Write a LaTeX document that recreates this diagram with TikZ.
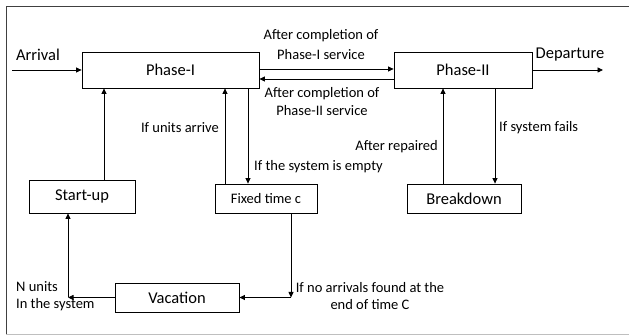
\documentclass[tikz,border=0pt]{standalone}
\usepackage{fontspec}
\setmainfont{Carlito}
\usetikzlibrary{arrows.meta}
\tikzset{
  box/.style={draw=black, line width=0.8pt, inner sep=0pt, font=\fontsize{16.5}{19}\selectfont},
  lbl/.style={inner sep=0pt, font=\fontsize{14.5}{18}\selectfont},
  big/.style={inner sep=0pt, font=\fontsize{16.5}{19}\selectfont},
  arr/.style={draw=black, line width=0.8pt, -{Triangle[length=5.5pt,width=5pt]}},
  ln/.style={draw=black, line width=0.8pt}
}
\begin{document}
\begin{tikzpicture}[x=1pt,y=-1pt]
\useasboundingbox (0,0) rectangle (629,336);
\draw[draw=black!75, line width=0.8pt] (629,6.5) -- (6,6.5) -- (6,334);
\draw[draw=black!25, line width=0.8pt] (6,334) -- (629,334);

% boxes
\node[box, minimum width=177pt, minimum height=36pt] (p1) at (170.5,70) {Phase-I};
\node[box, minimum width=138pt, minimum height=36pt] (p2) at (463,70) {Phase-II};
\node[box, minimum width=106pt, minimum height=33pt] (su) at (82,196.5) {Start-up};
\node[box, minimum width=102pt, minimum height=29pt, font=\fontsize{14.5}{17}\selectfont] (ft) at (266,198.5) {Fixed time c};
\node[box, minimum width=114pt, minimum height=29pt] (bd) at (464,198.5) {Breakdown};
\node[box, minimum width=124pt, minimum height=29pt] (vac) at (177,297.5) {Vacation};

% free-end coordinates
\coordinate (ain) at (12,70);
\coordinate (dout) at (603,70);

% arrival / departure
\draw[arr] (ain) -- (p1.west);
\draw[arr] (p2.east) -- (dout);
\node[big] (tarr) at (38,55) {Arrival};
\node[big] (tdep) at (570,55) {Departure};

% phase arrows
\draw[arr] ([yshift=1pt]p1.east) -- ([yshift=1pt]p2.west);
\draw[arr] ([yshift=-9pt]p2.west) -- ([yshift=-9pt]p1.east);
\node[lbl, align=center, font=\fontsize{14.5}{20}\selectfont] (t1) at (321,45) {After completion of\\Phase-I service};
\node[lbl, align=center] (t2) at (322,102) {After completion of\\Phase-II service};

% start-up -> phase I
\draw[arr] ([xshift=22pt]su.north) -- ([xshift=22pt]su.north |- p1.south);

% fixed time <-> phase I
\draw[arr] ([xshift=-41pt]ft.north) -- ([xshift=-41pt]ft.north |- p1.south);
\draw[arr] ([xshift=77.5pt]p1.south) -- ([xshift=77.5pt]p1.south |- ft.north);
\node[lbl, anchor=east] (tua) at (219,128) {If units arrive};
\node[lbl, anchor=west] (tse) at (254,167) {If the system is empty};

% breakdown <-> phase II
\draw[arr] ([xshift=-21pt]bd.north) -- ([xshift=-21pt]bd.north |- p2.south);
\draw[arr] ([xshift=32pt]p2.south) -- ([xshift=32pt]p2.south |- bd.north);
\node[lbl, anchor=east] (trep) at (438,147) {After repaired};
\node[lbl, anchor=west] (tfail) at (499,128) {If system fails};

% fixed time -> vacation
\coordinate (c1) at ([xshift=25pt]ft.south |- vac.east);
\draw[arr] ([xshift=25pt]ft.south) -- (c1);
\draw[arr] (c1) -- (vac.east);
\node[lbl, align=center, font=\fontsize{14.5}{17.5}\selectfont] (tno) at (370,296) {If no arrivals found at the\\end of time C};

% vacation -> start-up
\coordinate (c2) at ([xshift=-14pt]su.south |- vac.west);
\draw[arr] (vac.west) -- (c2);
\draw[arr] (c2) -- ([xshift=-14pt]su.south);
\node[lbl, align=left, anchor=west, font=\fontsize{14.5}{17}\selectfont] (tn) at (16,296) {N units\\In the system};
\end{tikzpicture}
\end{document}
